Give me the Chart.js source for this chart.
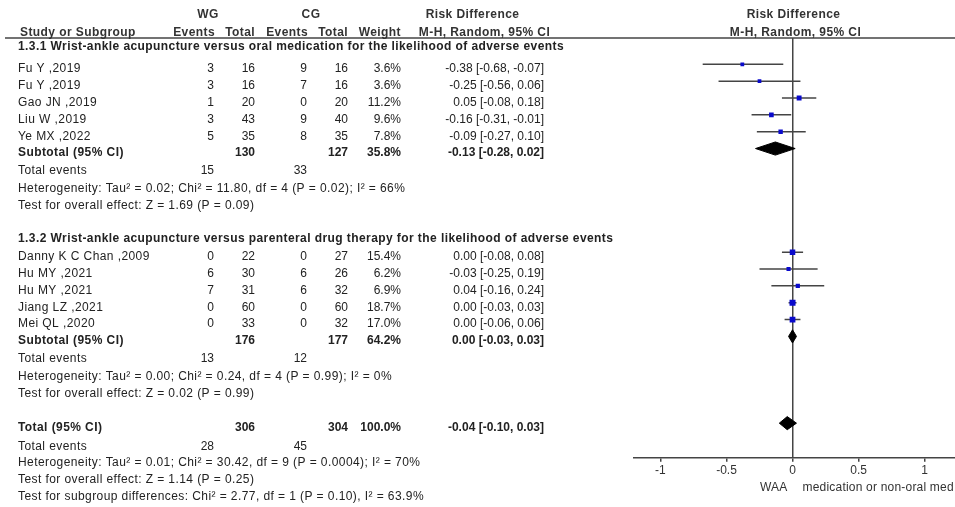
<!DOCTYPE html>
<html>
<head>
<meta charset="utf-8">
<script src="https://cdn.jsdelivr.net/npm/chart.js@4.4.1/dist/chart.umd.min.js"></script>
<style>
  html, body { margin: 0; padding: 0; background: #fff; }
  canvas { display: block; }
</style>
</head>
<body>
<canvas id="forest" width="955" height="507"></canvas>
<script>
// ---- 1.3.1 Wrist-ankle acupuncture vs oral medication ----
const g1Study    = ['Fu Y ,2019', 'Fu Y ,2019', 'Gao JN ,2019', 'Liu W ,2019', 'Ye MX ,2022'];
const g1WgEvents = [3, 3, 1, 3, 5];
const g1WgTotal  = [16, 16, 20, 43, 35];
const g1CgEvents = [9, 7, 0, 9, 8];
const g1CgTotal  = [16, 16, 20, 40, 35];
const g1Weight   = [3.6, 3.6, 11.2, 9.6, 7.8];
const g1Rd       = [-0.38, -0.25, 0.05, -0.16, -0.09];
const g1Lo       = [-0.68, -0.56, -0.08, -0.31, -0.27];
const g1Hi       = [-0.07, 0.06, 0.18, -0.01, 0.10];

// ---- 1.3.2 Wrist-ankle acupuncture vs parenteral drug therapy ----
const g2Study    = ['Danny K C Chan ,2009', 'Hu MY ,2021', 'Hu MY ,2021', 'Jiang LZ ,2021', 'Mei QL ,2020'];
const g2WgEvents = [0, 6, 7, 0, 0];
const g2WgTotal  = [22, 30, 31, 60, 33];
const g2CgEvents = [0, 6, 6, 0, 0];
const g2CgTotal  = [27, 26, 32, 60, 32];
const g2Weight   = [15.4, 6.2, 6.9, 18.7, 17.0];
const g2Rd       = [0.00, -0.03, 0.04, 0.00, 0.00];
const g2Lo       = [-0.08, -0.25, -0.16, -0.03, -0.06];
const g2Hi       = [0.08, 0.19, 0.24, 0.03, 0.06];

// ---- pooled estimates: subtotal 1.3.1, subtotal 1.3.2, overall ----
const poolLabel    = ['Subtotal (95% CI)', 'Subtotal (95% CI)', 'Total (95% CI)'];
const poolWgTotal  = [130, 176, 306];
const poolCgTotal  = [127, 177, 304];
const poolWeight   = [35.8, 64.2, 100.0];
const poolRd       = [-0.13, 0.00, -0.04];
const poolLo       = [-0.28, -0.03, -0.10];
const poolHi       = [0.02, 0.03, 0.03];
const poolWgEvents = [15, 13, 28];
const poolCgEvents = [33, 12, 45];
const poolHetero   = [
  'Heterogeneity: Tau\u00b2 = 0.02; Chi\u00b2 = 11.80, df = 4 (P = 0.02); I\u00b2 = 66%',
  'Heterogeneity: Tau\u00b2 = 0.00; Chi\u00b2 = 0.24, df = 4 (P = 0.99); I\u00b2 = 0%',
  'Heterogeneity: Tau\u00b2 = 0.01; Chi\u00b2 = 30.42, df = 9 (P = 0.0004); I\u00b2 = 70%'
];
const poolOverall  = [
  'Test for overall effect: Z = 1.69 (P = 0.09)',
  'Test for overall effect: Z = 0.02 (P = 0.99)',
  'Test for overall effect: Z = 1.14 (P = 0.25)'
];
const subgroupTest = 'Test for subgroup differences: Chi\u00b2 = 2.77, df = 1 (P = 0.10), I\u00b2 = 63.9%';
const groupTitles  = [
  '1.3.1 Wrist-ankle acupuncture versus oral medication for the likelihood of adverse events',
  '1.3.2 Wrist-ankle acupuncture versus parenteral drug therapy for the likelihood of adverse events'
];

// ---- axis ----
const xTickValues = [-1, -0.5, 0, 0.5, 1];
const xTickLabels = ['-1', '-0.5', '0', '0.5', '1'];
const favoursLeft  = 'WAA';
const favoursRight = 'medication or non-oral med';

// ---- layout: row index of each table line (one unit = one text line) ----
const g1Rows       = [0, 1, 2, 3, 4];
const g2Rows       = [11.15, 12.15, 13.15, 14.15, 15.15];
const poolRows     = [5, 16.15, 21.3];
const eventsRows   = [6.05, 17.22, 22.4];
const heteroRows   = [7.12, 18.3, 23.37];
const overallRows  = [8.15, 19.3, 24.36];
const subgroupRow  = 25.42;
const titleRows    = [-1.3, 10.1];
const headRows     = [-3.21, -2.16];
// right edges of numeric columns: WG events, WG total, CG events, CG total, weight, RD
const colRight     = [214, 255, 307, 348, 401, 544];
const studyLeft    = 18;

const FONT = "'Liberation Sans', Arial, Helvetica, sans-serif";
const INK = '#222';
const LINE = '#444';
const DIAMOND_HALF = 0.39;
const PROSE_SPACING = '0.42px';   // widened tracking for prose labels
const CAPTION_SPACING = '0.2px';

const allRows   = g1Rows.concat(g2Rows);
const allRd     = g1Rd.concat(g2Rd);
const allLo     = g1Lo.concat(g2Lo);
const allHi     = g1Hi.concat(g2Hi);
const allWeight = g1Weight.concat(g2Weight);

const fmt2 = v => v.toFixed(2);
const ciText = (rd, lo, hi) => `${fmt2(rd)} [${fmt2(lo)}, ${fmt2(hi)}]`;

// confidence-interval whiskers
const ciSets = allLo.map((lo, i) => ({
  data: [{ x: lo, y: allRows[i] }, { x: allHi[i], y: allRows[i] }],
  showLine: true, borderColor: LINE, borderWidth: 1.5,
  pointRadius: 0, fill: false, order: 2
}));

// study point estimates, square size follows weight
const squareSet = {
  data: allRd.map((v, i) => ({ x: v, y: allRows[i] })),
  showLine: false, pointStyle: 'rect',
  pointRadius: c => (3.2 + 0.15 * allWeight[c.dataIndex]) / (2 * Math.SQRT1_2),
  backgroundColor: '#0a0acc', borderColor: '#0a0acc', borderWidth: 0, order: 0
};

// pooled diamonds
const diamondSets = poolRd.map((v, i) => {
  const r = poolRows[i];
  return {
    data: [
      { x: poolLo[i], y: r }, { x: v, y: r - DIAMOND_HALF },
      { x: poolHi[i], y: r }, { x: v, y: r + DIAMOND_HALF },
      { x: poolLo[i], y: r }
    ],
    showLine: true, fill: 'shape', tension: 0,
    backgroundColor: '#000', borderColor: '#000', borderWidth: 1,
    pointRadius: 0, order: 1
  };
});

// table text, column headings and axis captions
const tablePlugin = {
  id: 'forestTable',
  afterDraw(chart) {
    const { ctx, chartArea } = chart;
    const ys = chart.scales.y, xs = chart.scales.x;
    const rowY = r => ys.getPixelForValue(r) + 4.5;
    // spacing widens tracking for prose; numeric cells keep plain spacing
    const put = (txt, x, y, align, bold, color, spacing) => {
      ctx.font = `${bold ? 'bold ' : ''}12px ${FONT}`;
      ctx.fillStyle = color || INK;
      ctx.textAlign = align || 'left';
      ctx.textBaseline = 'middle';
      ctx.letterSpacing = spacing || '0px';
      ctx.fillText(txt, x, y);
    };
    const prose = (txt, x, y, bold, color) => put(txt, x, y, 'left', bold, color, PROSE_SPACING);
    ctx.save();

    // heading rule
    ctx.strokeStyle = LINE;
    ctx.lineWidth = 1.5;
    ctx.beginPath();
    ctx.moveTo(5, chartArea.top);
    ctx.lineTo(chart.width, chartArea.top);
    ctx.stroke();

    // column headings
    const h1 = rowY(headRows[0]), h2 = rowY(headRows[1]);
    const zeroX = xs.getPixelForValue(0);
    const HEAD = '#333';
    const S = PROSE_SPACING;
    put('WG', 208, h1, 'center', true, HEAD, S);
    put('CG', 311, h1, 'center', true, HEAD, S);
    put('Risk Difference', 472.5, h1, 'center', true, HEAD, S);
    put('Risk Difference', zeroX + 1, h1, 'center', true, HEAD, S);
    prose('Study or Subgroup', 20, h2, true, HEAD);
    put('Events', 215, h2, 'right', true, HEAD, S);
    put('Total', 255, h2, 'right', true, HEAD, S);
    put('Events', 308, h2, 'right', true, HEAD, S);
    put('Total', 348, h2, 'right', true, HEAD, S);
    put('Weight', 401, h2, 'right', true, HEAD, S);
    put('M-H, Random, 95% CI', 484.5, h2, 'center', true, HEAD, S);
    put('M-H, Random, 95% CI', zeroX + 3, h2, 'center', true, HEAD, S);

    // subgroup titles
    groupTitles.forEach((t, i) => prose(t, studyLeft, rowY(titleRows[i]), true));

    // study rows
    const groups = [
      [g1Study, g1WgEvents, g1WgTotal, g1CgEvents, g1CgTotal, g1Weight, g1Rd, g1Lo, g1Hi, g1Rows],
      [g2Study, g2WgEvents, g2WgTotal, g2CgEvents, g2CgTotal, g2Weight, g2Rd, g2Lo, g2Hi, g2Rows]
    ];
    groups.forEach(([st, we, wt, ce, ct, w, rd, lo, hi, rows]) => {
      st.forEach((name, i) => {
        const y = rowY(rows[i]);
        prose(name, studyLeft, y);
        put(String(we[i]), colRight[0], y, 'right');
        put(String(wt[i]), colRight[1], y, 'right');
        put(String(ce[i]), colRight[2], y, 'right');
        put(String(ct[i]), colRight[3], y, 'right');
        put(w[i].toFixed(1) + '%', colRight[4], y, 'right');
        put(ciText(rd[i], lo[i], hi[i]), colRight[5], y, 'right');
      });
    });

    // pooled rows
    poolLabel.forEach((lab, i) => {
      const y = rowY(poolRows[i]);
      prose(lab, studyLeft, y, true);
      put(String(poolWgTotal[i]), colRight[1], y, 'right', true);
      put(String(poolCgTotal[i]), colRight[3], y, 'right', true);
      put(poolWeight[i].toFixed(1) + '%', colRight[4], y, 'right', true);
      put(ciText(poolRd[i], poolLo[i], poolHi[i]), colRight[5], y, 'right', true);

      const ye = rowY(eventsRows[i]);
      prose('Total events', studyLeft, ye);
      put(String(poolWgEvents[i]), colRight[0], ye, 'right');
      put(String(poolCgEvents[i]), colRight[2], ye, 'right');

      prose(poolHetero[i], studyLeft, rowY(heteroRows[i]));
      prose(poolOverall[i], studyLeft, rowY(overallRows[i]));
    });
    prose(subgroupTest, studyLeft, rowY(subgroupRow));

    // favours captions under the axis
    const capY = chartArea.bottom + 29.5;
    put(favoursLeft, zeroX - 5, capY, 'right', false, HEAD, CAPTION_SPACING);
    put(favoursRight, zeroX + 10, capY, 'left', false, HEAD, CAPTION_SPACING);

    ctx.restore();
  }
};

new Chart(document.getElementById('forest'), {
  type: 'scatter',
  data: { datasets: [squareSet, ...diamondSets, ...ciSets] },
  options: {
    responsive: false,
    animation: false,
    events: [],
    devicePixelRatio: 1,
    layout: { autoPadding: false, padding: { left: 634, right: 0, top: 38, bottom: 0 } },
    plugins: { legend: { display: false }, tooltip: { enabled: false } },
    scales: {
      x: {
        type: 'linear', min: -1.2, max: 1.23,
        afterBuildTicks: s => { s.ticks = xTickValues.map(v => ({ value: v })); },
        afterFit: s => { s.height = 49.3; },
        ticks: {
          callback: (v, i) => xTickLabels[i],
          font: { family: FONT, size: 12 }, color: '#333',
          padding: 2, maxRotation: 0, autoSkip: false
        },
        grid: {
          color: c => (c.tick && c.tick.value === 0) ? LINE : 'rgba(0,0,0,0)',
          lineWidth: 1.5, tickColor: LINE, tickLength: 4, drawOnChartArea: true
        },
        border: { display: true, color: LINE, width: 1.5 }
      },
      y: { type: 'linear', display: false, min: -1.561, max: 23.35, reverse: true }
    }
  },
  plugins: [tablePlugin]
});
</script>
</body>
</html>
